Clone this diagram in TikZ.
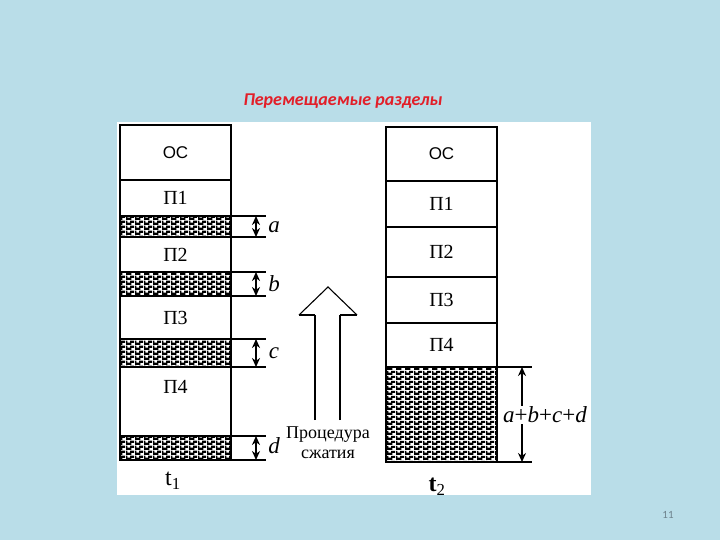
\documentclass[tikz,border=0pt]{standalone}
\usepackage{fontspec}
\setmainfont{Liberation Serif}
\newfontfamily\titlefont{Carlito}
\newfontfamily\ossans{Liberation Sans}
\usetikzlibrary{patterns,arrows.meta}
\definecolor{bgblue}{RGB}{185,221,232}
\definecolor{titlered}{RGB}{226,30,40}
\definecolor{pagegray}{RGB}{110,130,140}
\pgfdeclarepatternformonly{memfill}{\pgfpointorigin}{\pgfpoint{9pt}{5pt}}{\pgfpoint{9pt}{5pt}}{%
  \pgfpathrectangle{\pgfpoint{0pt}{0pt}}{\pgfpoint{6pt}{2.8pt}}%
  \pgfpathrectangle{\pgfpoint{4.5pt}{2.5pt}}{\pgfpoint{4.5pt}{2.5pt}}%
  \pgfpathrectangle{\pgfpoint{0pt}{2.5pt}}{\pgfpoint{1.5pt}{2.5pt}}%
  \pgfusepath{fill}}
\begin{document}
\begin{tikzpicture}[x=1pt,y=-1pt,
  cell/.style={draw=black, line width=1.3pt, minimum width=111pt, inner sep=0pt, outer sep=0pt, anchor=north west, font=\fontsize{20}{20}\selectfont},
  oscell/.style={cell, font=\ossans\fontsize{17}{17}\selectfont},
  hatchcell/.style={cell, pattern=memfill},
  tick/.style={line width=1.3pt},
  thicktick/.style={line width=2.3pt},
  dim/.style={line width=2pt, {Stealth[length=9pt,width=8pt]}-{Stealth[length=9pt,width=8pt]}},
  dimlabel/.style={font=\itshape\fontsize{23}{23}\selectfont, inner sep=0pt},
  shaft/.style={line width=2.6pt},
  headline/.style={line width=1.1pt}]
\fill[bgblue] (0,0) rectangle (720,540);
\fill[white] (117,122) rectangle (591,495);
\useasboundingbox (0,0) rectangle (720,540);

% title
\node[font=\titlefont\bfseries\itshape\fontsize{18}{18}\selectfont, text=titlered] (title) at (343,101) {Перемещаемые разделы};
\node[font=\titlefont\fontsize{11}{11}\selectfont, text=pagegray] (page) at (668,515) {11};

% left column (t1)
\node[oscell, minimum height=55pt] (L0) at (120,125) {ОС};
\node[cell, minimum height=36pt] (L1) at (L0.south west) {П1};
\node[hatchcell, minimum height=21pt] (L2) at (L1.south west) {};
\node[cell, minimum height=35pt] (L3) at (L2.south west) {П2};
\node[hatchcell, minimum height=24pt] (L4) at (L3.south west) {};
\node[cell, minimum height=43pt] (L5) at (L4.south west) {П3};
\node[hatchcell, minimum height=28pt] (L6) at (L5.south west) {};
\node[cell, minimum height=69pt] (L7) at (L6.south west) {};
\node[font=\fontsize{20}{20}\selectfont] (L7t) at ([yshift=-20pt]L7.north) {П4};
\node[hatchcell, minimum height=24pt] (L8) at (L7.south west) {};
\node[font=\fontsize{24}{24}\selectfont] (t1) at (173,481) {t\textsubscript{1}};

% left dimension ticks
\coordinate (a1) at ([xshift=35pt]L2.north east);
\coordinate (a2) at ([xshift=35pt]L2.south east);
\coordinate (b1) at ([xshift=35pt]L4.north east);
\coordinate (b2) at ([xshift=35pt]L4.south east);
\coordinate (c1) at ([xshift=35pt]L6.north east);
\coordinate (c2) at ([xshift=35pt]L6.south east);
\coordinate (d1) at ([xshift=35pt]L8.north east);
\coordinate (d2) at ([xshift=35pt]L8.south east);
\draw[thicktick] (L2.north east) -- (a1);
\draw[tick] (L2.south east) -- (a2);
\draw[thicktick] (L4.north east) -- (b1);
\draw[thicktick] (L4.south east) -- (b2);
\draw[thicktick] (L6.north east) -- (c1);
\draw[tick] (L6.south east) -- (c2);
\draw[tick] (L8.north east) -- (d1);
\draw[tick] (L8.south east) -- (d2);
\draw[dim] ([xshift=25pt]L2.north east) -- ([xshift=25pt]L2.south east);
\draw[dim] ([xshift=25pt]L4.north east) -- ([xshift=25pt]L4.south east);
\draw[dim] ([xshift=25pt]L6.north east) -- ([xshift=25pt]L6.south east);
\draw[dim] ([xshift=25pt]L8.north east) -- ([xshift=25pt]L8.south east);
\node[dimlabel] (la) at (274,227) {a};
\node[dimlabel] (lb) at (274,284) {b};
\node[dimlabel] (lc) at (274,353) {c};
\node[dimlabel] (ld) at (274,446) {d};

% compression arrow
\coordinate (sl0) at (315,420);
\coordinate (sl1) at (315,315);
\coordinate (sr0) at (340,420);
\coordinate (sr1) at (340,315);
\coordinate (hl) at (299,315);
\coordinate (hr) at (357,315);
\coordinate (tip) at (328,287);
\draw[shaft] (sl0) -- (sl1);
\draw[shaft] (sr0) -- (sr1);
\draw[shaft] (hl) -- (sl1);
\draw[shaft] (sr1) -- (hr);
\draw[headline, line join=miter] (hl) -- (tip) -- (hr);
\node[align=center, font=\fontsize{18}{20}\selectfont, inner sep=0pt] (proc) at (328,443) {Процедура\\сжатия};

% right column (t2)
\node[oscell, minimum height=54pt] (R0) at (386,127) {ОС};
\node[cell, minimum height=46pt] (R1) at (R0.south west) {П1};
\node[cell, minimum height=50pt] (R2) at (R1.south west) {П2};
\node[cell, minimum height=46pt] (R3) at (R2.south west) {П3};
\node[cell, minimum height=44pt] (R4) at (R3.south west) {П4};
\node[hatchcell, minimum height=95pt] (R5) at (R4.south west) {};
\draw[thicktick] (R0.south west) -- (R0.south east);
\draw[thicktick] (R1.south west) -- (R1.south east);
\node[font=\fontsize{24}{24}\selectfont] (t2) at (437,487) {\textbf{t}\textsubscript{2}};

\coordinate (e1) at ([xshift=35pt]R5.north east);
\coordinate (e2) at ([xshift=35pt]R5.south east);
\draw[thicktick] (R5.north east) -- (e1);
\draw[thicktick] (R5.south east) -- (e2);
\draw[dim] ([xshift=25pt]R5.north east) -- ([xshift=25pt]R5.south east);
\node[dimlabel, fill=white, inner sep=1pt] (le) at (545,415) {a\textup{+}b\textup{+}c\textup{+}d};
\end{tikzpicture}
\end{document}
